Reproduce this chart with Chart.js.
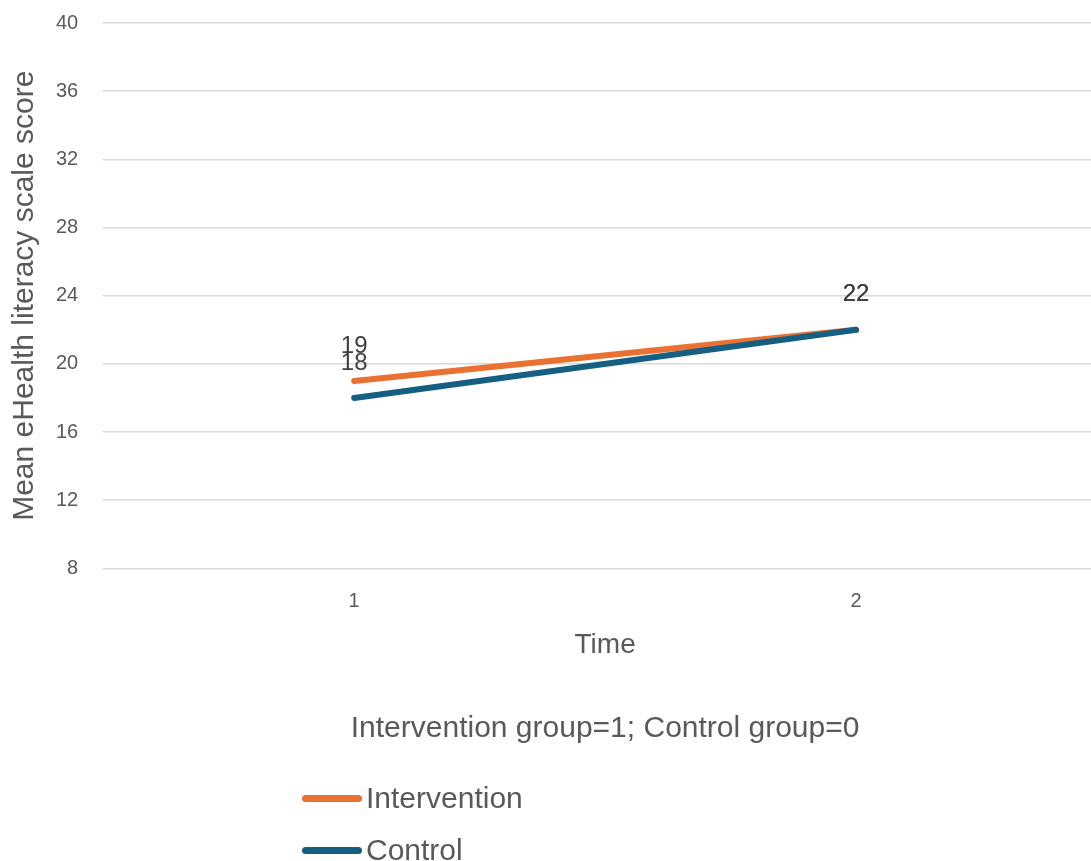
<!DOCTYPE html>
<html><head><meta charset="utf-8">
<script src="https://cdn.jsdelivr.net/npm/chart.js@4/dist/chart.umd.min.js"></script>
<style>
html,body{margin:0;padding:0;overflow:hidden;background:#fff;width:1091px;height:861px}
#wrap{position:absolute;left:0;top:-14px;width:1110px;height:875px}
#title{position:absolute;left:304px;width:600px;top:709px;height:36px;line-height:36px;text-align:center;font-family:"Liberation Sans",Arial,sans-serif;font-size:30px;color:#595959;white-space:nowrap}
#legend{position:absolute;left:302px;top:772px;font-family:"Liberation Sans",Arial,sans-serif;font-size:30px;color:#595959}
.item{display:flex;align-items:center;height:52px;white-space:nowrap}
.swatch{width:60px;height:7px;border-radius:4px;margin-right:4px}
</style></head><body>
<div id="wrap"><canvas id="c" width="1110" height="875"></canvas></div>
<div id="title"></div>
<div id="legend"></div>
<script>
const categories = ['1', '2'];
const seriesNames = ['Intervention', 'Control'];
const interventionValues = [19, 22];
const controlValues = [18, 22];
const seriesColors = ['#E97132', '#156082'];
const yTickValues = [8, 12, 16, 20, 24, 28, 32, 36, 40];
const xTitle = 'Time';
const yTitle = 'Mean eHealth literacy scale score';
const chartTitle = 'Intervention group=1; Control group=0';

const FONT = '"Liberation Sans", Arial, sans-serif';
const GREY = '#595959';

const dataLabelPlugin = {
  id: 'dataLabels',
  afterDatasetsDraw(chart) {
    const ctx = chart.ctx;
    ctx.save();
    ctx.font = '24px ' + FONT;
    ctx.fillStyle = '#404040';
    ctx.textAlign = 'center';
    ctx.textBaseline = 'middle';
    chart.data.datasets.forEach((ds, i) => {
      chart.getDatasetMeta(i).data.forEach((pt, j) => {
        ctx.fillText(String(ds.data[j]), pt.x, pt.y - 35);
      });
    });
    ctx.restore();
  }
};

const chart = new Chart(document.getElementById('c'), {
  type: 'line',
  data: {
    labels: categories,
    datasets: [
      { label: seriesNames[0], data: interventionValues, borderColor: seriesColors[0], backgroundColor: seriesColors[0], borderWidth: 6, borderCapStyle: 'round', pointRadius: 0, tension: 0, order: 1 },
      { label: seriesNames[1], data: controlValues, borderColor: seriesColors[1], backgroundColor: seriesColors[1], borderWidth: 6, borderCapStyle: 'round', pointRadius: 0, tension: 0, order: 0 }
    ]
  },
  options: {
    responsive: false,
    devicePixelRatio: 1,
    animation: false,
    layout: { padding: { top: 9, left: 0, right: 3, bottom: 199 } },
    plugins: {
      legend: { display: false },
      tooltip: { enabled: false },
      title: { display: false }
    },
    scales: {
      x: {
        offset: true,
        grid: { display: false, drawTicks: false },
        border: { display: false },
        ticks: { color: GREY, font: { family: FONT, size: 20, lineHeight: 1.2 }, padding: 21 },
        title: { display: true, text: xTitle, color: GREY, font: { family: FONT, size: 28, lineHeight: 1.2 }, padding: { top: -6, bottom: 0 } }
      },
      y: {
        min: 8, max: 40,
        afterBuildTicks: (scale) => { scale.ticks = yTickValues.map(v => ({ value: v })); },
        grid: { color: '#d9d9d9', lineWidth: 1.5, drawTicks: false },
        border: { display: false },
        ticks: { color: GREY, font: { family: FONT, size: 20, lineHeight: 1.2 }, padding: 25 },
        title: { display: true, text: yTitle, color: GREY, font: { family: FONT, size: 30, lineHeight: 1.2 }, padding: { top: 7, bottom: -12 } }
      }
    }
  },
  plugins: [dataLabelPlugin]
});

const titleEl = document.getElementById('title');
titleEl.textContent = chartTitle;
const area = chart.chartArea;
titleEl.style.left = ((area.left + area.right) / 2 - 300) + 'px';

const legendEl = document.getElementById('legend');
chart.data.datasets.forEach(ds => {
  const item = document.createElement('div');
  item.className = 'item';
  const sw = document.createElement('span');
  sw.className = 'swatch';
  sw.style.background = ds.borderColor;
  const tx = document.createElement('span');
  tx.textContent = ds.label;
  item.appendChild(sw);
  item.appendChild(tx);
  legendEl.appendChild(item);
});
</script>
</body></html>
